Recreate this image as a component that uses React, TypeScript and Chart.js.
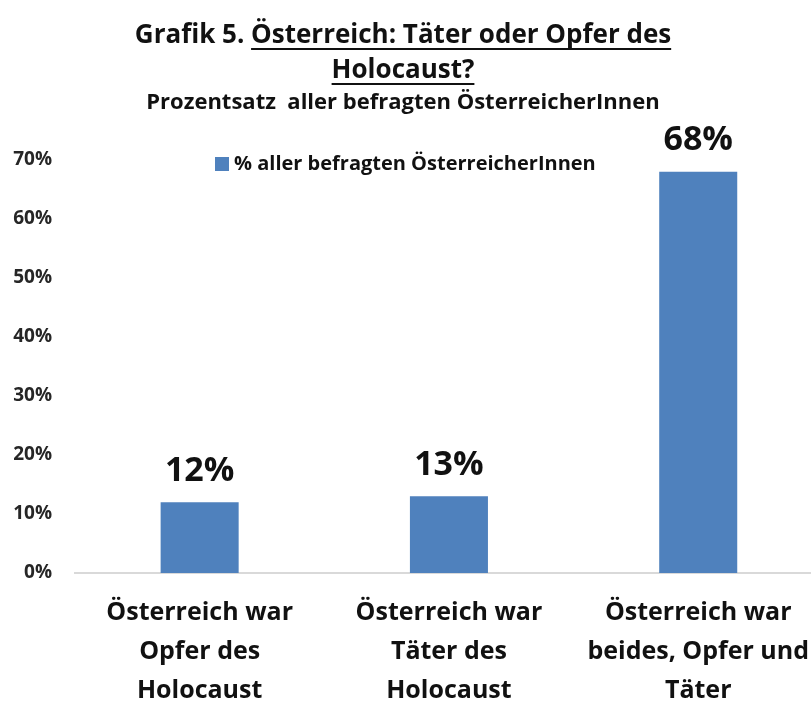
import React, { useEffect, useRef } from "react";
import { Chart, registerables } from "chart.js";

Chart.register(...registerables);

const categories: string[][] = [
  ["Österreich war", "Opfer des", "Holocaust"],
  ["Österreich war", "Täter des", "Holocaust"],
  ["Österreich war", "beides, Opfer und", "Täter"],
];
const values: number[] = [12, 13, 68];
const seriesLabel = "% aller befragten ÖsterreicherInnen";
const yMax = 70;
const yStep = 10;
const titleLead = "Grafik 5. ";
const titleLine1 = "Österreich: Täter oder Opfer des";
const titleLine2 = "Holocaust?";
const subtitleText = "Prozentsatz  aller befragten ÖsterreicherInnen";

const FONT = "'Open Sans', sans-serif";
const BAR = "#4f81bd";

const decorPlugin = {
  id: "decor",
  afterDraw(chart: any) {
    const ctx = chart.ctx as CanvasRenderingContext2D;
    const cx = 403;
    ctx.save();
    ctx.fillStyle = "#111";
    ctx.strokeStyle = "#111";
    // title line 1
    ctx.font = `bold 26px ${FONT}`;
    ctx.textBaseline = "alphabetic";
    const wLead = ctx.measureText(titleLead).width;
    const w1 = ctx.measureText(titleLine1).width;
    const x0 = cx - (wLead + w1) / 2;
    ctx.textAlign = "left";
    ctx.fillText(titleLead, x0, 43);
    ctx.fillText(titleLine1, x0 + wLead, 43);
    ctx.lineWidth = 2;
    ctx.beginPath();
    ctx.moveTo(x0 + wLead, 49);
    ctx.lineTo(x0 + wLead + w1, 49);
    ctx.stroke();
    // title line 2
    const w2 = ctx.measureText(titleLine2).width;
    ctx.fillText(titleLine2, cx - w2 / 2, 78);
    ctx.beginPath();
    ctx.moveTo(cx - w2 / 2, 84);
    ctx.lineTo(cx + w2 / 2, 84);
    ctx.stroke();
    // subtitle
    ctx.font = `bold 22px ${FONT}`;
    ctx.textAlign = "center";
    ctx.fillText(subtitleText, cx, 109);
    // legend
    ctx.font = `bold 20px ${FONT}`;
    const lx = 215;
    ctx.fillStyle = BAR;
    ctx.fillRect(lx, 157, 14, 14);
    ctx.fillStyle = "#111";
    ctx.textAlign = "left";
    ctx.textBaseline = "middle";
    ctx.fillText(seriesLabel, lx + 19, 164);
    // value labels
    const meta = chart.getDatasetMeta(0);
    ctx.font = `bold 34px ${FONT}`;
    ctx.textAlign = "center";
    meta.data.forEach((bar: any, i: number) => {
      ctx.fillText(values[i] + "%", bar.x, bar.y - 31);
    });
    ctx.restore();
  },
};

export default function App() {
  const ref = useRef<HTMLCanvasElement | null>(null);
  useEffect(() => {
    if (!ref.current) return;
    const chart = new Chart(ref.current, {
      type: "bar",
      data: {
        labels: categories,
        datasets: [
          {
            label: seriesLabel,
            data: values,
            backgroundColor: BAR,
            barPercentage: 0.313,
            categoryPercentage: 1,
          },
        ],
      },
      options: {
        animation: false,
        responsive: false,
        layout: { padding: { top: 160, right: 0, left: 0, bottom: 0 } },
        plugins: {
          legend: { display: false },
          title: { display: false },
          tooltip: { enabled: false },
        },
        scales: {
          x: {
            grid: { display: false, drawTicks: false },
            border: { display: true, color: "#d9d9d9", width: 2 },
            ticks: {
              color: "#111",
              padding: 20,
              font: { family: FONT, size: 25, weight: "bold", lineHeight: 1.56 },
              maxRotation: 0,
              autoSkip: false,
            },
            afterFit(scale: any) {
              scale.height = 131;
            },
          },
          y: {
            min: 0,
            max: yMax,
            grid: { display: false, drawTicks: false },
            border: { display: false },
            ticks: {
              stepSize: yStep,
              padding: 23,
              color: "#262626",
              font: { family: FONT, size: 19, weight: "bold" },
              callback: (v: any) => v + "%",
            },
            afterFit(scale: any) {
              scale.width = 75;
            },
          },
        },
      },
      plugins: [decorPlugin],
    });
    return () => chart.destroy();
  }, []);
  return (
    <div style={{ position: "absolute", left: 0, top: 0, width: 811, height: 704, overflow: "hidden", background: "#fff" }}>
      <canvas ref={ref} width={829} height={704} style={{ display: "block" }} />
    </div>
  );
}
